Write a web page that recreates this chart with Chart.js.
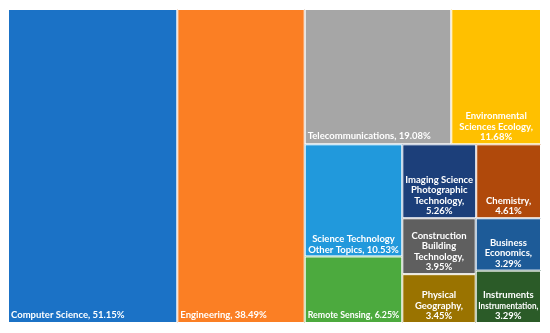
<!DOCTYPE html>
<html>
<head>
<meta charset="utf-8">
<script src="https://cdn.jsdelivr.net/npm/chart.js@4.4.1/dist/chart.umd.min.js"></script>
<style>
  html, body { margin: 0; padding: 0; background: #fff; }
  #wrap { width: 550px; height: 333px; }
</style>
</head>
<body>
<div id="wrap"><canvas id="treemap"></canvas></div>
<script>
// data
const categories = [
    'Computer Science', 'Engineering', 'Telecommunications',
    'Environmental Sciences Ecology', 'Science Technology Other Topics',
    'Remote Sensing', 'Imaging Science Photographic Technology', 'Chemistry',
    'Construction Building Technology', 'Physical Geography',
    'Business Economics', 'Instruments Instrumentation'
];
const shares = [51.15, 38.49, 19.08, 11.68, 10.53, 6.25, 5.26, 4.61, 3.95, 3.45, 3.29, 3.29];
const tileColors = [
    '#1b72c6', '#fb7f24', '#a6a6a6', '#ffc000', '#2199dc', '#4caa3e',
    '#1c3f7a', '#b0490b', '#5f5f5f', '#9a7300', '#1d5b98', '#2b5b28'
];

// squarified layout (row along the shorter side), ratio = preferred thickness/length
const TILE_RATIO = 0.8;

function squarify(values, x0, y0, x1, y1, ratio) {
    const rects = [];
    let total = values.reduce((a, b) => a + b, 0);
    let i0 = 0;
    while (i0 < values.length) {
        const dx = x1 - x0, dy = y1 - y0;
        const alpha = Math.max(dy / dx, dx / dy) / (total * ratio);
        let sum = values[i0], min = sum, max = sum;
        let beta = sum * sum * alpha;
        let best = Math.max(max / beta, beta / min);
        let i1 = i0 + 1;
        for (; i1 < values.length; i1++) {
            const v = values[i1];
            const s = sum + v;
            const mn = Math.min(min, v), mx = Math.max(max, v);
            beta = s * s * alpha;
            const r = Math.max(mx / beta, beta / mn);
            if (r > best) break;
            sum = s; min = mn; max = mx; best = r;
        }
        const frac = sum / total;
        if (dx < dy) {
            const h = dy * frac;
            let x = x0;
            for (let i = i0; i < i1; i++) {
                const w = dx * values[i] / sum;
                rects.push({ index: i, x0: x, x1: x + w, y0: y0, y1: y0 + h });
                x += w;
            }
            y0 += h;
        } else {
            const w = dx * frac;
            let y = y0;
            for (let i = i0; i < i1; i++) {
                const h = dy * values[i] / sum;
                rects.push({ index: i, x0: x0, x1: x0 + w, y0: y, y1: y + h });
                y += h;
            }
            x0 += w;
        }
        total -= sum;
        i0 = i1;
    }
    return rects;
}

function wrapText(ctx, text, maxWidth) {
    const words = text.split(' ');
    const lines = [];
    let line = '';
    words.forEach(word => {
        const test = line ? line + ' ' + word : word;
        if (line && ctx.measureText(test).width > maxWidth) {
            lines.push(line);
            line = word;
        } else {
            line = test;
        }
    });
    if (line) lines.push(line);
    return lines;
}

const treemapPlugin = {
    id: 'treemapTiles',
    afterDatasetsDraw(chart) {
        const { ctx, chartArea } = chart;
        const xScale = chart.scales.x, yScale = chart.scales.y;
        const aspect = chartArea.width / chartArea.height;
        const rects = squarify(shares, 0, 0, aspect, 1, TILE_RATIO);

        ctx.save();
        rects.forEach(r => {
            const left = xScale.getPixelForValue(r.x0 / aspect * 100);
            const right = xScale.getPixelForValue(r.x1 / aspect * 100);
            const top = yScale.getPixelForValue(r.y0 * 100);
            const bottom = yScale.getPixelForValue(r.y1 * 100);
            const w = right - left, h = bottom - top;

            ctx.fillStyle = tileColors[r.index];
            ctx.fillRect(left, top, w, h);
            ctx.strokeStyle = '#ffffff';
            ctx.lineWidth = 1;
            ctx.strokeRect(left + 0.5, top + 0.5, w - 1, h - 1);

            // label
            const label = categories[r.index] + ', ' + shares[r.index].toFixed(2) + '%';
            ctx.font = 'bold 9.5px Lato';
            ctx.fillStyle = '#ffffff';
            ctx.textBaseline = 'middle';
            const maxW = w - 6;
            const lineH = 10.5;
            if (ctx.measureText(label).width <= (w - 4) * 1.08) {
                ctx.textAlign = 'left';
                ctx.fillText(label, left + 3, bottom - 8, w - 6);
            } else {
                const lines = wrapText(ctx, label, maxW);
                ctx.textAlign = 'center';
                lines.forEach((ln, k) => {
                    const yy = bottom - 7 - (lines.length - 1 - k) * lineH;
                    ctx.fillText(ln, left + w / 2, yy, w - 5);
                });
            }
        });
        ctx.restore();
    }
};

const ctx = document.getElementById('treemap').getContext('2d');
new Chart(ctx, {
    type: 'scatter',
    data: {
        datasets: [{ label: 'Share', data: [] }]
    },
    options: {
        responsive: true,
        maintainAspectRatio: false,
        animation: false,
        layout: { padding: { left: 8, top: 9, right: 9, bottom: 10 } },
        scales: {
            x: { type: 'linear', min: 0, max: 100, display: false },
            y: { type: 'linear', min: 0, max: 100, reverse: true, display: false }
        },
        plugins: {
            legend: { display: false },
            tooltip: { enabled: false }
        }
    },
    plugins: [treemapPlugin]
});
</script>
</body>
</html>
